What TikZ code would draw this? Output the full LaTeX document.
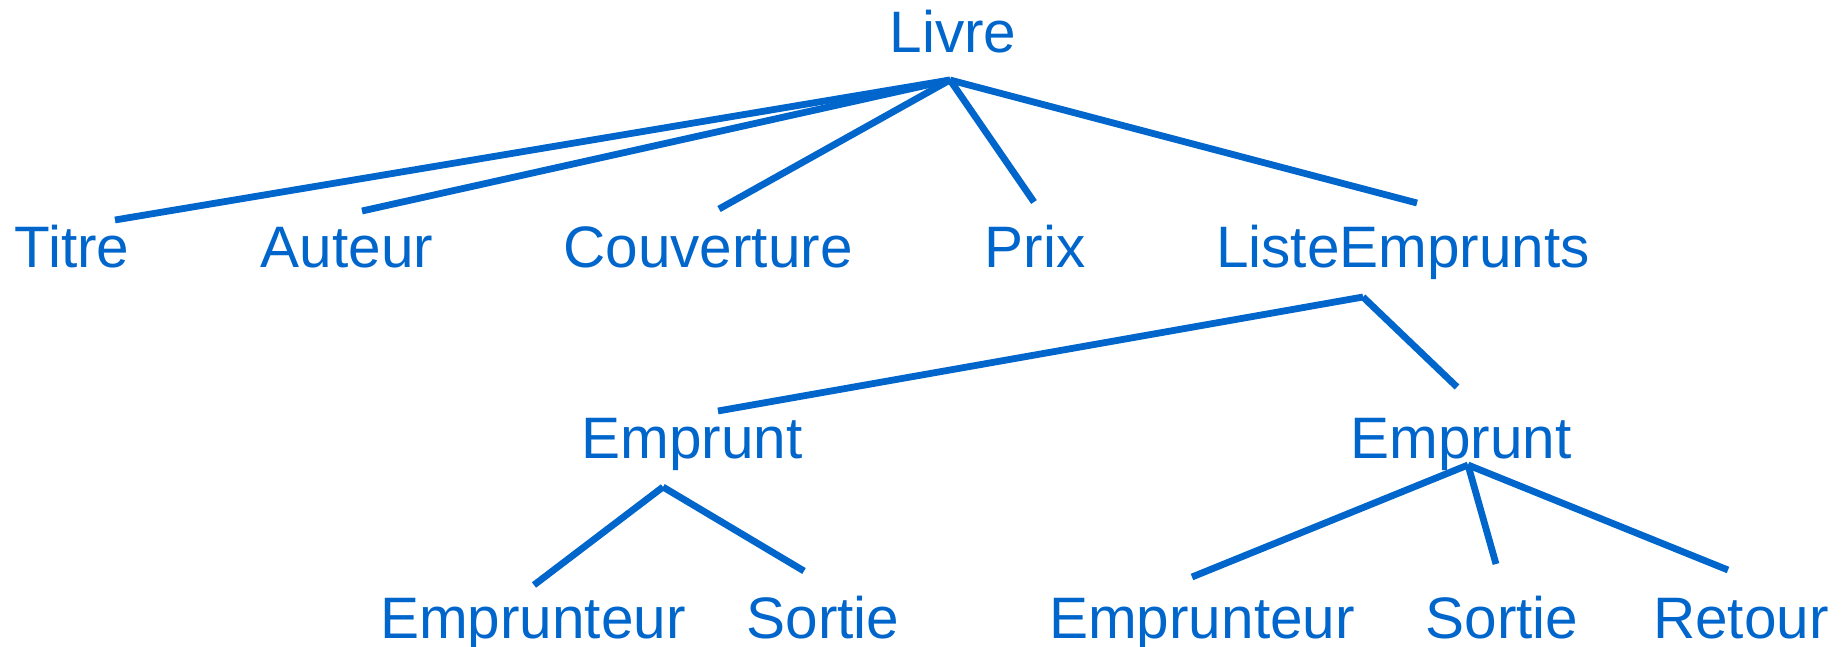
\documentclass[tikz,border=0pt]{standalone}
\usepackage{fontspec}
\setmainfont{Liberation Sans}
\definecolor{treeblue}{RGB}{0,102,204}
\begin{document}
\begin{tikzpicture}[x=1pt,y=-1pt,
  lbl/.style={anchor=base,inner sep=0pt,text=treeblue,font=\fontsize{58.5}{70}\selectfont},
  edge/.style={draw=treeblue,line width=6.8pt}]
\useasboundingbox (0,0) rectangle (1845,647);
% nodes
\node[lbl] (livre) at (953,53) {Livre};
\node[lbl] (titre) at (72,268) {Titre};
\node[lbl] (auteur) at (347,268) {Auteur};
\node[lbl] (couv) at (708,268) {Couverture};
\node[lbl] (prix) at (1035,268) {Prix};
\node[lbl] (liste) at (1403,268) {ListeEmprunts};
\node[lbl] (empA) at (692,458) {Emprunt};
\node[lbl] (empB) at (1461,458) {Emprunt};
\node[lbl] (emprA) at (533,638) {Emprunteur};
\node[lbl] (sortA) at (823,638) {Sortie};
\node[lbl] (emprB) at (1202,638) {Emprunteur};
\node[lbl] (sortB) at (1502,638) {Sortie};
\node[lbl] (retour) at (1741,638) {Retour};
% connector end points
\coordinate (livre-b) at (950,80);
\coordinate (titre-t) at (115,220);
\coordinate (auteur-t) at (362,211);
\coordinate (couv-t) at (719,209);
\coordinate (prix-t) at (1034,202);
\coordinate (liste-t) at (1417,203);
\coordinate (liste-b) at (1363,297);
\coordinate (empA-t) at (718,411);
\coordinate (empB-t) at (1457,387);
\coordinate (empA-b) at (663,487);
\coordinate (emprA-t) at (534,585);
\coordinate (sortA-t) at (804,571);
\coordinate (empB-b) at (1468,465);
\coordinate (emprB-t) at (1192,577);
\coordinate (sortB-t) at (1496,564);
\coordinate (retour-t) at (1728,570);
% connectors
\draw[edge] (livre-b) -- (titre-t);
\draw[edge] (livre-b) -- (auteur-t);
\draw[edge] (livre-b) -- (couv-t);
\draw[edge] (livre-b) -- (prix-t);
\draw[edge] (livre-b) -- (liste-t);
\draw[edge] (liste-b) -- (empA-t);
\draw[edge] (liste-b) -- (empB-t);
\draw[edge] (empA-b) -- (emprA-t);
\draw[edge] (empA-b) -- (sortA-t);
\draw[edge] (empB-b) -- (emprB-t);
\draw[edge] (empB-b) -- (sortB-t);
\draw[edge] (empB-b) -- (retour-t);
\end{tikzpicture}
\end{document}
